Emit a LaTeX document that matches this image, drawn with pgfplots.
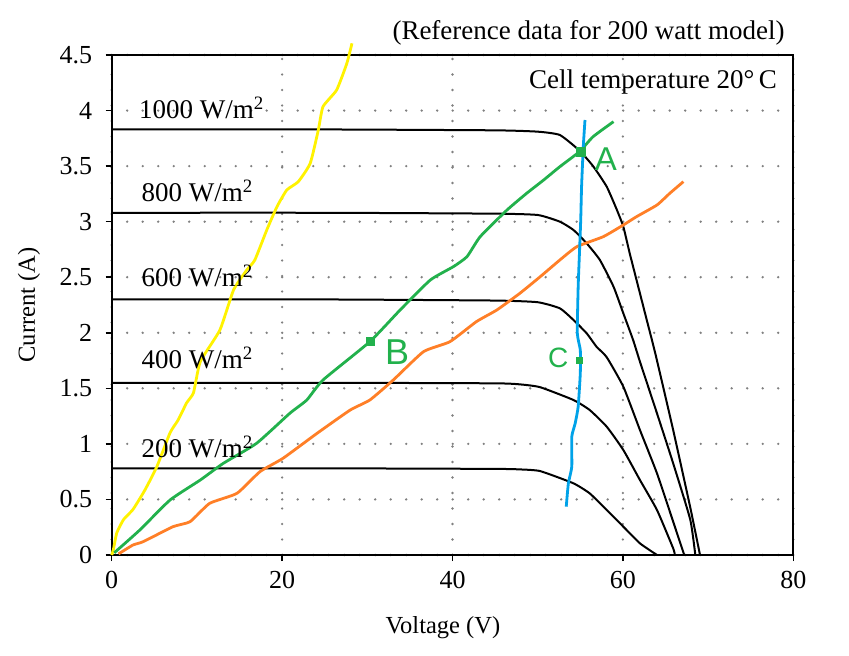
\documentclass[border=0pt]{standalone}
\usepackage{pgfplots}
\pgfplotsset{compat=1.18}
\usepackage{fontspec}
\setmainfont{Liberation Serif}
\newfontfamily\handfont{Liberation Sans}
\definecolor{pyellow}{HTML}{FFF200}
\definecolor{pgreen}{HTML}{22B14C}
\definecolor{porange}{HTML}{FF7F27}
\definecolor{pblue}{HTML}{00A2E8}
\begin{document}
\begin{tikzpicture}
\begin{axis}[
  scale only axis, width=681.6pt, height=500pt,
  xmin=0, xmax=80, ymin=0, ymax=4.5,
  xtick={0,20,40,60,80}, ytick={0,0.5,1,1.5,2,2.5,3,3.5,4,4.5},
  tick align=outside, tick pos=left, major tick length=6pt,
  grid=major,
  grid style={line width=2.6pt, black!50, dash pattern=on 0pt off 15.5pt, line cap=round},
  axis line style={line width=1.9pt},
  every tick/.style={black, line width=1.6pt},
  ticklabel style={font=\fontsize{26}{29}\selectfont},
  xticklabel style={yshift=-7pt},
  yticklabel style={xshift=-10pt},
  /pgf/number format/assume math mode=true,
  clip=false,
  xlabel={Voltage (V)}, ylabel={Current (A)},
  label style={font=\fontsize{24.5}{27}\selectfont},
  xlabel style={at={(axis description cs:0.486,-0.146)}, anchor=center},
  ylabel style={at={(axis description cs:-0.1213,0.5)}, anchor=center},
]
\coordinate (O) at (rel axis cs:0,0);
\coordinate (T) at (rel axis cs:1,1);
% I-V curves
\addplot[black, line width=2pt, smooth, tension=0.3] coordinates {
(0,3.83)(25,3.83)(45,3.822)(50,3.81)(52.6,3.78)(54.9,3.64)(56.5,3.50)(58.1,3.315)(59.3,3.105)(60.05,2.955)(60.8,2.715)(61.6,2.475)(62.8,2.115)(63.8,1.815)(65.9,1.125)(67.9,0.43)(69.05,0)};
\addplot[black, line width=2pt, smooth, tension=0.3] coordinates {
(0,3.08)(25,3.08)(45,3.072)(50,3.06)(52.6,3.00)(54.2,2.925)(55.75,2.805)(57.3,2.655)(58.9,2.415)(60.05,2.175)(61.2,1.935)(62.0,1.74)(64.0,1.275)(65.9,0.825)(67.9,0.32)(68.5,0)};
\addplot[black, line width=2pt, smooth, tension=0.3] coordinates {
(0,2.30)(25,2.30)(45,2.29)(50,2.275)(52.6,2.22)(54.2,2.115)(55.75,1.995)(56.9,1.875)(58.1,1.78)(60.05,1.515)(62.0,1.125)(64.0,0.735)(65.9,0.30)(67.2,0)};
\addplot[black, line width=2pt, smooth, tension=0.3] coordinates {
(0,1.55)(25,1.55)(45,1.545)(48,1.535)(50.3,1.51)(54.2,1.395)(56.1,1.305)(58.1,1.155)(60.05,0.945)(62.0,0.675)(64.0,0.405)(65.9,0.06)(66.1,0)};
\addplot[black, line width=2pt, smooth, tension=0.3] coordinates {
(0,0.78)(25,0.78)(45,0.775)(48,0.77)(50.3,0.755)(54.2,0.645)(56.1,0.555)(58.1,0.405)(60.05,0.255)(62.0,0.105)(64.0,0)};
% hand-drawn annotations
\addplot[pyellow, line width=2.8pt, smooth, tension=0.3] coordinates {
(0,0)(0.2,0.05)(0.6,0.2)(1.4,0.32)(2.5,0.41)(3.9,0.585)(5.3,0.795)(6.85,1.10)(7.8,1.215)(8.8,1.37)(9.6,1.46)(10.4,1.74)(12.7,2.025)(14.3,2.385)(15.85,2.565)(16.8,2.655)(18.2,2.925)(19.4,3.135)(20.55,3.285)(21.9,3.36)(23.3,3.525)(24.25,3.825)(24.8,4.035)(26.4,4.185)(27.6,4.425)(28.2,4.605)};
\addplot[pgreen, line width=2.8pt, smooth, tension=0.3] coordinates {
(0.3,0.02)(3.3,0.225)(6.85,0.495)(10.4,0.675)(13.1,0.825)(17.0,1.005)(20.9,1.275)(22.9,1.395)(24.8,1.575)(30.3,1.92)(33.85,2.205)(37.4,2.475)(40.1,2.595)(41.7,2.685)(43.25,2.865)(46.4,3.105)(48.7,3.255)(50.7,3.375)(52.6,3.495)(54.9,3.63)(56.5,3.765)(58.9,3.9)};
\addplot[porange, line width=2.8pt, smooth, tension=0.3] coordinates {
(0.8,0.01)(2.5,0.09)(3.7,0.12)(7.2,0.255)(9.2,0.30)(11.5,0.465)(14.7,0.555)(17.4,0.75)(20.1,0.87)(24.1,1.095)(28.0,1.305)(30.3,1.395)(33.05,1.575)(36.6,1.83)(39.7,1.92)(42.8,2.10)(45.2,2.205)(47.9,2.355)(50.3,2.505)(52.6,2.655)(54.6,2.775)(57.7,2.865)(60.05,2.97)(61.6,3.045)(64.0,3.15)(65.5,3.255)(67.1,3.36)};
\addplot[pblue, line width=2.8pt, smooth, tension=0.3] coordinates {
(53.35,0.435)(53.6,0.645)(54.0,0.795)(54.0,1.065)(54.4,1.185)(54.75,1.335)(55.0,1.635)(55.0,1.845)(54.65,1.995)(54.75,2.415)(54.9,2.715)(55.05,3.015)(55.15,3.315)(55.35,3.675)(55.55,3.915)};
% points A, B, C
\addplot[only marks, mark=square*, mark size=4.5pt, pgreen] coordinates {(55.0,3.63)};
\addplot[only marks, mark=square*, mark size=4pt, pgreen] coordinates {(30.3,1.92)};
\addplot[only marks, mark=square*, mark size=3pt, pgreen] coordinates {(54.9,1.755)};
\node[pgreen, font=\handfont\fontsize{33}{36}\selectfont] at (axis cs:58.0,3.56) {A};
\node[pgreen, font=\handfont\fontsize{36}{40}\selectfont] at (axis cs:33.5,1.83) {B};
\node[pgreen, font=\handfont\fontsize{28}{32}\selectfont] at (axis cs:52.4,1.77) {C};
% irradiance labels
\node[anchor=base west, inner sep=0pt, font=\fontsize{27}{30}\selectfont] at (axis cs:3.2,3.93) {1000 W/m\textsuperscript{2}};
\node[anchor=base west, inner sep=0pt, font=\fontsize{27}{30}\selectfont] at (axis cs:3.5,3.18) {800 W/m\textsuperscript{2}};
\node[anchor=base west, inner sep=0pt, font=\fontsize{27}{30}\selectfont] at (axis cs:3.5,2.42) {600 W/m\textsuperscript{2}};
\node[anchor=base west, inner sep=0pt, font=\fontsize{27}{30}\selectfont] at (axis cs:3.5,1.68) {400 W/m\textsuperscript{2}};
\node[anchor=base west, inner sep=0pt, font=\fontsize{27}{30}\selectfont] at (axis cs:3.5,0.88) {200 W/m\textsuperscript{2}};
\node[anchor=base east, inner sep=0pt, font=\fontsize{27}{30}\selectfont] at (axis cs:78.1,4.20) {Cell temperature 20\textdegree\,C};
\node[anchor=base east, inner sep=0pt, font=\fontsize{27}{30}\selectfont] at (axis cs:79.0,4.635) {(Reference data for 200 watt model)};
\end{axis}
\pgfresetboundingbox
\path ([shift={(-111.7pt,-100pt)}]O) rectangle ([shift={(55.7pt,55pt)}]T);
\end{tikzpicture}
\end{document}
